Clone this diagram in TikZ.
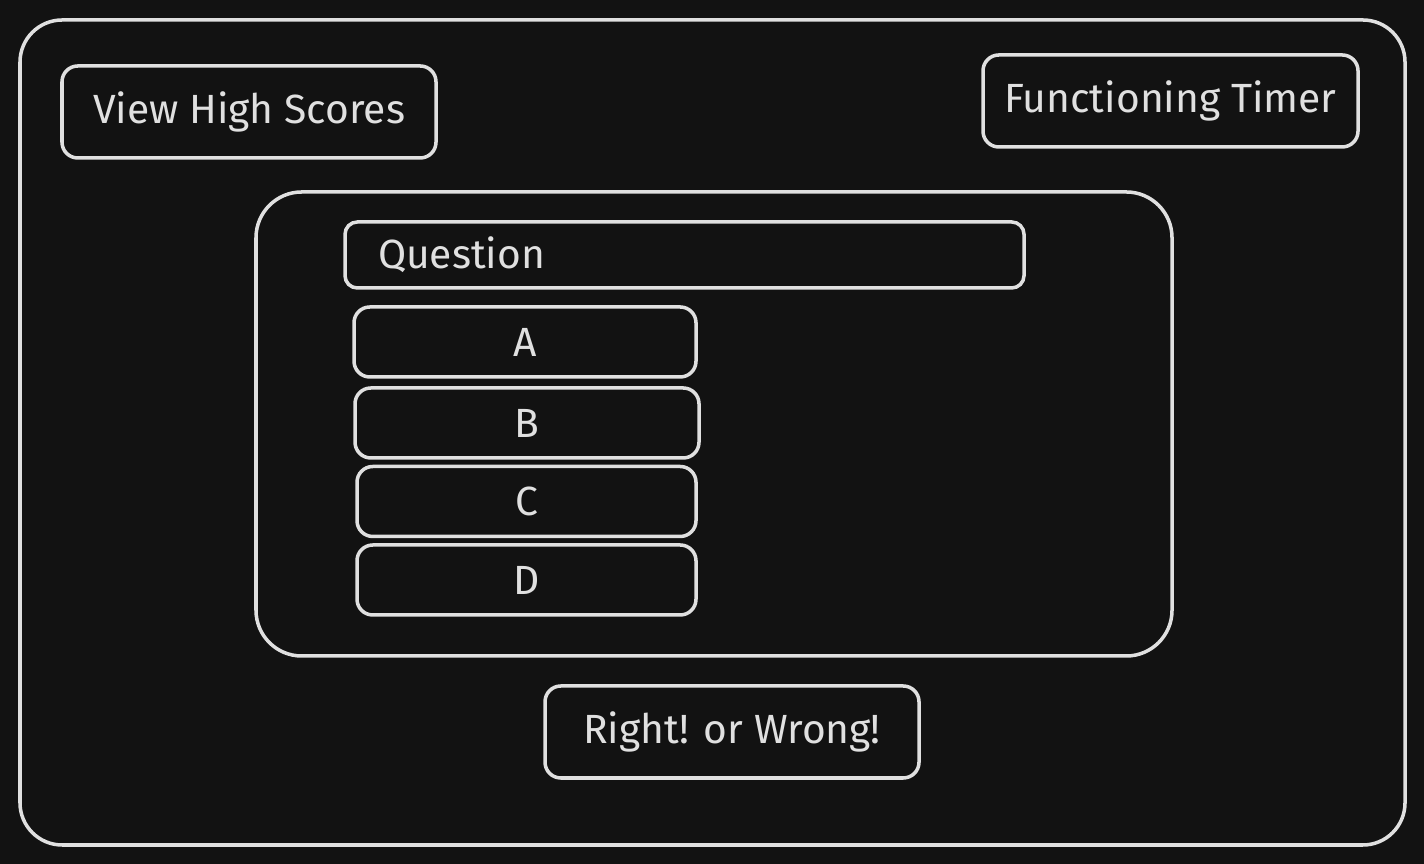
\documentclass[tikz,border=0pt]{standalone}
\usepackage{fontspec}
\setmainfont{Fira Sans}
\usepackage{tikz}
\usetikzlibrary{positioning}

\definecolor{bgdark}{HTML}{121212}
\definecolor{inkgray}{HTML}{E0E0E0}

\begin{document}
\begin{tikzpicture}[x=1cm,y=1cm,line width=1pt]
  \tikzstyle{every node}=[draw=inkgray,text=inkgray,rounded corners=4.5pt,inner sep=0pt,font=\fontsize{11.6}{13}\selectfont]
  \tikzstyle{panel}=[rounded corners=12pt]
  \tikzstyle{answer}=[minimum width=3.4cm,minimum height=0.7cm]
  \tikzstyle{button}=[minimum width=3.74cm,minimum height=0.92cm]

  \fill[bgdark] (0,0) rectangle (14.24,8.64);
  \useasboundingbox (0,0) rectangle (14.24,8.64);

  \node[panel,minimum width=13.85cm,minimum height=8.25cm] (screen) at (7.125,4.315) {};
  \node[button] (scores) at (2.49,7.52) {View High Scores};
  \node[button,minimum width=3.75cm] (timer) at (11.705,7.63) {Functioning Timer};
  \node[panel,rounded corners=13pt,minimum width=9.16cm,minimum height=4.64cm] (quiz) at (7.14,4.40) {};
  \node[minimum width=6.79cm,minimum height=0.66cm,text width=6.79cm,align=left,rounded corners=3.5pt] (question) at (6.845,6.09) {\hspace{0.33cm}Question};
  \node[answer,minimum width=3.42cm] (A) at (5.25,5.22) {A};
  \node[answer,minimum width=3.44cm] (B) at (5.27,4.41) {B};
  \node[answer,minimum width=3.39cm] (C) at (5.265,3.625) {C};
  \node[answer,minimum width=3.39cm] (D) at (5.265,2.84) {D};
  \node[button] (result) at (7.32,1.32) {Right! or Wrong!};
\end{tikzpicture}
\end{document}
